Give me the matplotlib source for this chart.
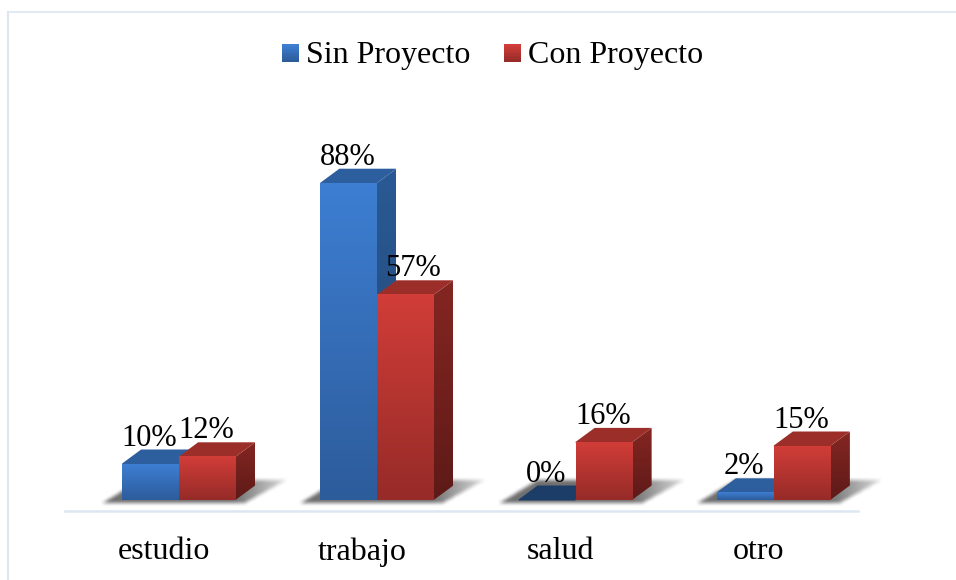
#!/usr/bin/env python3
"""Sin Proyecto vs Con Proyecto, fake 3D bars with gradient faces."""

import numpy as np
import matplotlib
matplotlib.use("Agg")
import matplotlib.pyplot as plt
from matplotlib.colors import LinearSegmentedColormap, to_rgb
from matplotlib.legend_handler import HandlerBase
from matplotlib.patches import Patch, Polygon, Rectangle

plt.rcParams["font.family"] = ["Liberation Serif", "DejaVu Serif"]

categories = ["estudio", "trabajo", "salud", "otro"]
series_names = ["Sin Proyecto", "Con Proyecto"]
sin_proyecto = [10, 88, 0, 2]
con_proyecto = [12, 57, 16, 15]
sin_labels = ["10%", "88%", "0%", "2%"]
con_labels = ["12%", "57%", "16%", "15%"]

W, H = 956, 580
PX_X = 198.25              # px per category
PX_Y = 3.6                 # px per percent
LEFT, RIGHT = 65, 858
BASE_PY, AXIS_PY, TOP_PY = 499.5, 511, 100

BAR_W = 57 / PX_X
DEPTH_X = 19 / PX_X
DEPTH_Y = 14 / PX_Y
SHIFT = 15 / PX_X          # clusters sit right of the band centre
PT = 0.72                  # px -> points at dpi 100

BLUE = dict(front=("#3d7ed2", "#2d5c9b"), side=("#2a5a94", "#1f4472"), top="#2d5f9e")
RED = dict(front=("#d13d38", "#962b28"), side=("#842622", "#5e1a18"), top="#9c2e2a")
LINE = "#dce6f2"
LABEL_DX = {"57%": 8}      # this one is pushed right in the original


def vgrad(ax, poly, c_top, c_bot, zorder=3):
    """Paint a polygon with a vertical gradient."""
    xs, ys = zip(*poly)
    cmap = LinearSegmentedColormap.from_list("g", [c_bot, c_top])
    im = ax.imshow(np.linspace(0, 1, 64)[:, None], cmap=cmap, origin="lower", aspect="auto",
                   extent=(min(xs), max(xs), min(ys), max(ys)), zorder=zorder, interpolation="bilinear")
    im.set_clip_path(Polygon(poly, transform=ax.transData))


def blur(a, k):
    kern = np.ones(k) / k
    a = np.apply_along_axis(lambda r: np.convolve(r, kern, mode="same"), 1, a)
    return np.apply_along_axis(lambda r: np.convolve(r, kern, mode="same"), 0, a)


def shadow(ax, x0):
    """Soft floor shadow behind one cluster, a blurred parallelogram."""
    w, h = 200, 44
    yy, xx = np.mgrid[0:h, 0:w]              # px from lower left of the patch
    bottom, top = 10, 32
    slant = (xx - 14) - (yy - bottom) * 36 / (top - bottom)
    right = (xx - 156) - (yy - bottom) * 40 / (top - bottom)
    mask = ((yy >= bottom) & (yy <= top) & (slant >= 0) & (right <= 0)).astype(float)
    alpha = blur(blur(mask, 5), 3) * 0.8
    alpha *= np.clip(1.35 - (xx - 120) / 70, 0, 1)
    rgba = np.zeros((h, w, 4))
    rgba[..., :3] = 0.3
    rgba[..., 3] = alpha
    px0 = x0 - 33 / PX_X
    ax.imshow(rgba, origin="lower", aspect="auto", zorder=1, interpolation="bilinear", clip_on=False,
              extent=(px0, px0 + w / PX_X, -13 / PX_Y, (h - 13) / PX_Y))


def bar3d(ax, x, v, st, zorder):
    e = 1 / PX_X           # overlap under the front face, avoids seams
    if v > 0:
        vgrad(ax, [(x + BAR_W - e, 0), (x + BAR_W, 0), (x + BAR_W + DEPTH_X, DEPTH_Y),
                   (x + BAR_W + DEPTH_X, v + DEPTH_Y), (x + BAR_W, v), (x + BAR_W - e, v)],
              *st["side"], zorder=zorder)
        top = st["top"]
    else:
        top = "#1c3d68"
    ax.add_patch(Polygon([(x, v - 1 / PX_Y), (x + BAR_W, v - 1 / PX_Y), (x + BAR_W, v),
                          (x + BAR_W + DEPTH_X, v + DEPTH_Y), (x + DEPTH_X, v + DEPTH_Y), (x, v)],
                         fc=top, ec="none", zorder=zorder + 0.1))
    if v > 0:
        vgrad(ax, [(x, 0), (x + BAR_W, 0), (x + BAR_W, v), (x, v)], *st["front"], zorder=zorder + 0.2)


class GradHandler(HandlerBase):
    def create_artists(self, legend, orig, xd, yd, w, h, fontsize, trans):
        c0, c1 = orig.grad
        c0, c1 = np.array(to_rgb(c0)), np.array(to_rgb(c1))
        out = []
        n = 12
        for i in range(n):
            t = i / (n - 1)
            out.append(Rectangle((-xd, 0.7 + w * i / n), w, w / n + 0.2, fc=c0 + (c1 - c0) * t,
                                 ec="none", transform=trans))
        return out


fig = plt.figure(figsize=(W / 100, H / 100), dpi=100)
# outer frame of the pasted chart, only left and top show
fig.add_artist(plt.Line2D([8 / W, 8 / W], [0, 1 - 12 / H], color=LINE, lw=1.5))
fig.add_artist(plt.Line2D([8 / W, 1], [1 - 12 / H, 1 - 12 / H], color=LINE, lw=1.2))

ax = fig.add_axes([LEFT / W, 1 - AXIS_PY / H, (RIGHT - LEFT) / W, (AXIS_PY - TOP_PY) / H])
ax.patch.set_alpha(0)

xpos = np.arange(len(categories))
for i, (a, b) in enumerate(zip(sin_proyecto, con_proyecto)):
    x0 = xpos[i] + SHIFT - BAR_W
    shadow(ax, x0)
    # blue first so the red one overlaps its side
    bar3d(ax, x0, a, BLUE, 3)
    bar3d(ax, x0 + BAR_W, b, RED, 4)
    ax.annotate(sin_labels[i], (x0 + BAR_W / 2, a), xytext=(-1.5 * PT, 18 * PT), textcoords="offset points",
                ha="center", va="baseline", fontsize=22, color="black", zorder=6)
    ax.annotate(con_labels[i], (x0 + 1.5 * BAR_W, b),
                xytext=((-1 + LABEL_DX.get(con_labels[i], 0)) * PT, 18 * PT), textcoords="offset points",
                ha="center", va="baseline", fontsize=22, color="black", zorder=6)

ax.set_xlim(-0.5, 3.5)
ax.set_ylim(-(AXIS_PY - BASE_PY) / PX_Y, (BASE_PY - TOP_PY) / PX_Y)
ax.set_xticks(xpos, categories, fontsize=23)
ax.set_yticks([])
ax.tick_params(axis="x", length=0, pad=19)
for s in ("top", "left", "right"):
    ax.spines[s].set_visible(False)
ax.spines["bottom"].set_color(LINE)
ax.spines["bottom"].set_linewidth(1.8)

h1, h2 = Patch(label=series_names[0]), Patch(label=series_names[1])
h1.grad, h2.grad = BLUE["front"][::-1], RED["front"][::-1]
fig.legend(handles=[h1, h2], ncol=2, frameon=False, fontsize=23,
           handler_map={Patch: GradHandler()}, handlelength=0.53, handleheight=0.53,
           handletextpad=0.22, columnspacing=1.06, loc="center", bbox_to_anchor=(492.5 / W, 1 - 55 / H),
           borderpad=0, borderaxespad=0)

fig.savefig("out.png", dpi=100)
